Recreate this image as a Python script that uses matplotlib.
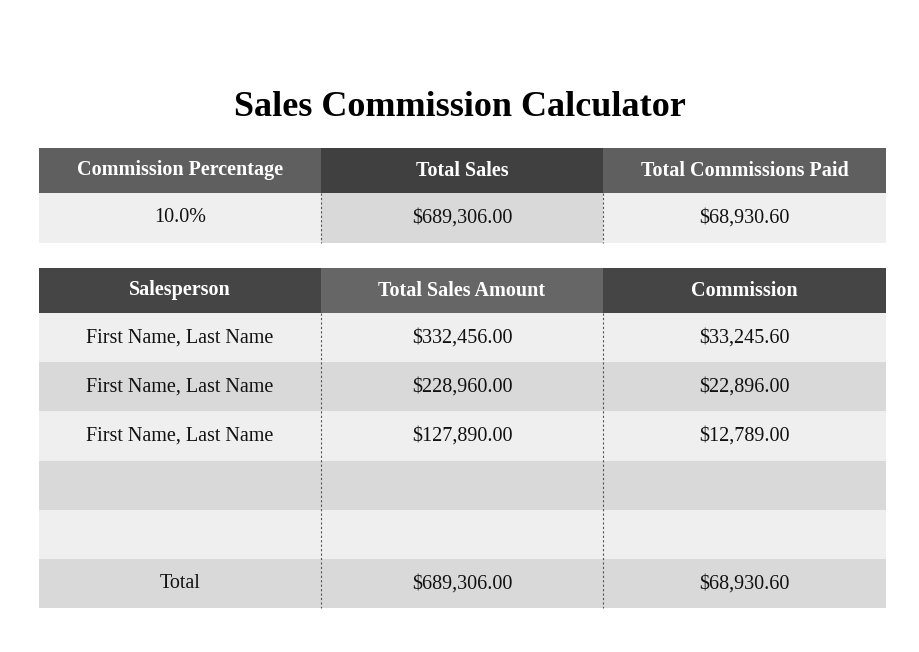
import matplotlib.pyplot as plt
from matplotlib.patches import Rectangle

title = "Sales Commission Calculator"
summary_headers = ["Commission Percentage", "Total Sales", "Total Commissions Paid"]
summary_values = ["10.0%", "$689,306.00", "$68,930.60"]
detail_headers = ["Salesperson", "Total Sales Amount", "Commission"]
salespeople = ["First Name, Last Name", "First Name, Last Name", "First Name, Last Name", "", "", "Total"]
sales_amounts = ["$332,456.00", "$228,960.00", "$127,890.00", "", "", "$689,306.00"]
commissions = ["$33,245.60", "$22,896.00", "$12,789.00", "", "", "$68,930.60"]

plt.rcParams["font.family"] = "Liberation Serif"
fig = plt.figure(figsize=(9.2, 6.52), dpi=100)
ax = fig.add_axes([0, 0, 1, 1])
ax.set_xlim(0, 920)
ax.set_ylim(652, 0)
ax.axis("off")

col_x = [39, 321, 603, 886]
LIGHT, MID = "#efefef", "#d9d9d9"


def cell(x0, x1, y0, y1, color, text, txtcolor="#111111", bold=False):
    ax.add_patch(Rectangle((x0, y0), x1 - x0, y1 - y0, facecolor=color, edgecolor="none"))
    ax.text((x0 + x1) / 2, (y0 + y1) / 2, text, ha="center", va="center", fontsize=14.5,
            color=txtcolor, fontweight="bold" if bold else "normal")


def separators(y0, y1):
    for x in col_x[1:3]:
        ax.plot([x, x], [y0, y1], color="#555555", lw=0.8, ls=(0, (2, 2)))


ax.text(460, 107, title, ha="center", va="center", fontsize=26, fontweight="bold", color="black")

# summary table
top_hdr = ["#5f5f5f", "#404040", "#5f5f5f"]
for i, h in enumerate(summary_headers):
    cell(col_x[i], col_x[i + 1], 148, 193, top_hdr[i], h, "white", True)
top_row = [LIGHT, MID, LIGHT]
for i, v in enumerate(summary_values):
    cell(col_x[i], col_x[i + 1], 193, 243, top_row[i], v)
separators(193, 243)

# detail table
det_hdr = ["#454545", "#666666", "#454545"]
for i, h in enumerate(detail_headers):
    cell(col_x[i], col_x[i + 1], 268, 313, det_hdr[i], h, "white", True)
row_h = 49.2
for r, row in enumerate(zip(salespeople, sales_amounts, commissions)):
    y0 = 313 + r * row_h
    color = LIGHT if r % 2 == 0 else MID
    for i, v in enumerate(row):
        cell(col_x[i], col_x[i + 1], y0, y0 + row_h, color, v)
separators(313, 313 + row_h * len(salespeople))

fig.savefig("out.png", dpi=100, facecolor="white")
